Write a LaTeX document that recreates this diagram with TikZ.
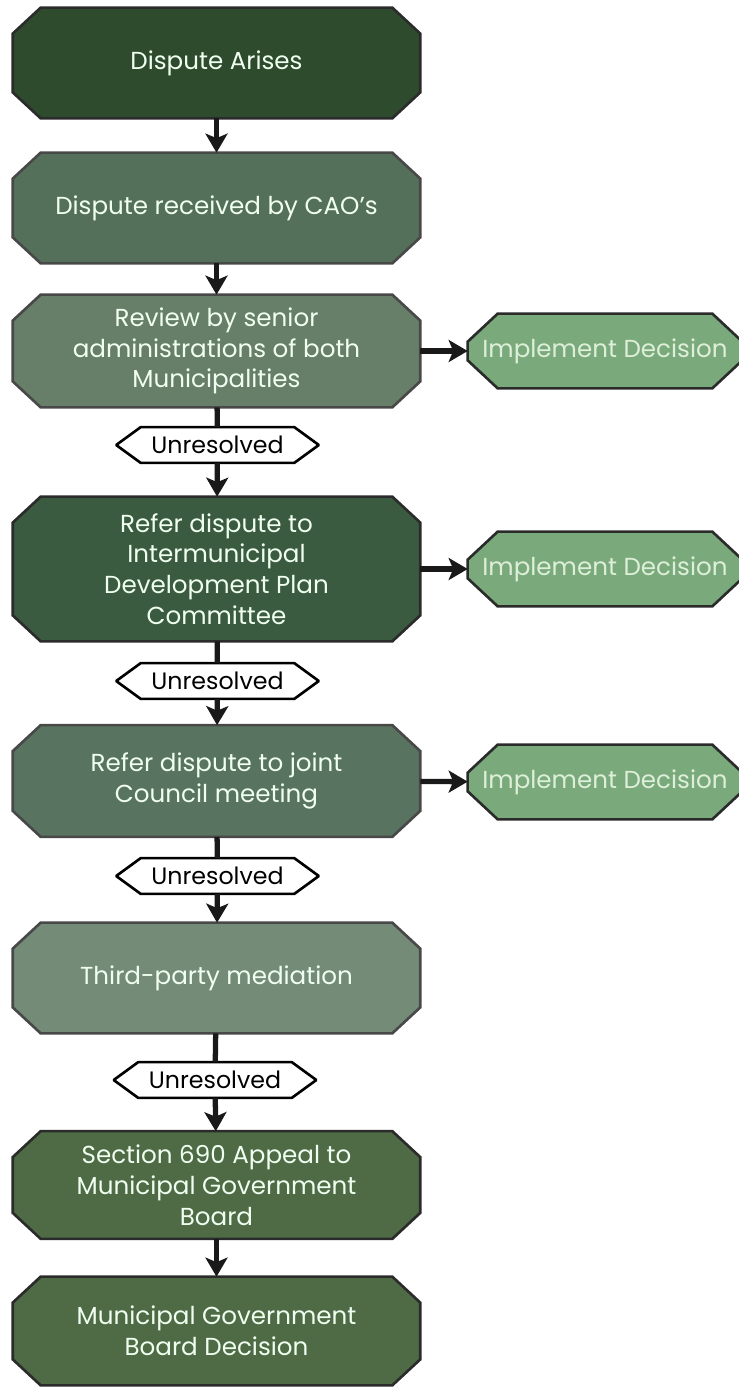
\documentclass[tikz,border=0pt]{standalone}
\usepackage{fontspec}
\setmainfont{Poppins}
\usetikzlibrary{calc,backgrounds,arrows.meta}

\definecolor{edge}{HTML}{2B2B2B}
\definecolor{softedge}{HTML}{484848}
\definecolor{implfill}{HTML}{7AAA7C}
\definecolor{impltext}{HTML}{DDEFD8}
\definecolor{stageA}{HTML}{2E4B2E}
\definecolor{stageB}{HTML}{55705A}
\definecolor{stageC}{HTML}{677E69}
\definecolor{stageD}{HTML}{3A5B40}
\definecolor{stageE}{HTML}{587360}
\definecolor{stageF}{HTML}{748B78}
\definecolor{stageG}{HTML}{4E6B46}

% octagon outline behind a node: node, fill, border, x cut, y cut
\newcommand\cutbox[5]{%
	\draw[line width=1.5pt, draw=#3, fill=#2]
		($(#1.north west)+(#4,0)$) -- ($(#1.north east)+(-#4,0)$) --
		($(#1.north east)+(0,#5)$) -- ($(#1.south east)+(0,-#5)$) --
		($(#1.south east)+(-#4,0)$) -- ($(#1.south west)+(#4,0)$) --
		($(#1.south west)+(0,-#5)$) -- ($(#1.north west)+(0,#5)$) -- cycle;}

\tikzset{
	stage/.style={rectangle, minimum width=8.14cm, minimum height=2.2cm,
		inner sep=0pt, text=white!94!green, align=center,
		font=\fontsize{14}{17.5}\selectfont},
	outcome/.style={rectangle, minimum width=5.48cm, minimum height=1.48cm,
		inner sep=0pt, text=impltext, font=\fontsize{14}{17}\selectfont},
	verdict/.style={rectangle, minimum width=4.02cm, minimum height=0.7cm,
		inner sep=0pt, text=black, font=\fontsize{13.5}{15}\selectfont},
	link/.style={line width=3pt, draw=black!90},
	flow/.style={link, -{Stealth[length=0.38cm,width=0.44cm,inset=0.09cm]}}
}

\begin{document}
\begin{tikzpicture}[x=0.02cm,y=-0.02cm]
	\useasboundingbox (0,0) rectangle (738,1387);

	% main column
	\node[stage] (arise) at (216.5,63) {Dispute Arises};
	\node[stage] (cao) at (216.5,208) {Dispute received by CAO's};
	\node[stage, minimum height=2.24cm] (review) at (216.5,351) {Review by senior\\administrations of both\\Municipalities};
	\node[stage, minimum height=2.88cm] (idp) at (216.5,569) {Refer dispute to\\Intermunicipal\\Development Plan\\Committee};
	\node[stage, minimum height=2.22cm] (council) at (216.5,781) {Refer dispute to joint\\Council meeting};
	\node[stage] (mediate) at (216.5,978) {Third-party mediation};
	\node[stage, minimum height=2.14cm] (appeal) at (216.5,1185) {Section 690 Appeal to\\Municipal Government\\Board};
	\node[stage, minimum height=2.16cm] (board) at (216.5,1331) {Municipal Government\\Board Decision};

	% unresolved tags
	\node[verdict] (open1) at (217.5,445) {Unresolved};
	\node[verdict] (open2) at (217.5,681) {Unresolved};
	\node[verdict] (open3) at (217.5,876) {Unresolved};
	\node[verdict] (open4) at (215,1080) {Unresolved};

	% side outcomes
	\node[outcome] (done1) at (605,351) {Implement Decision};
	\node[outcome] (done2) at (605,569) {Implement Decision};
	\node[outcome] (done3) at (605,782) {Implement Decision};

	\begin{scope}[on background layer]
		\foreach \n/\c/\e in {arise/stageA/edge, cao/stageB/softedge,
			review/stageC/softedge, idp/stageD/edge, council/stageE/softedge,
			mediate/stageF/softedge, appeal/stageG/edge, board/stageG/edge}
			\cutbox{\n}{\c}{\e}{28}{26};
		\foreach \n in {done1,done2,done3}
			\cutbox{\n}{implfill}{edge}{30}{28};
		\foreach \n in {open1,open2,open3,open4}
			\cutbox{\n}{white}{black}{24}{17.5};
	\end{scope}

	\draw[flow] (arise) -- (cao);
	\draw[flow] (cao) -- (review);
	\draw[flow] (review) -- (done1);
	\draw[link] (review) -- (open1);
	\draw[flow] (open1) -- (idp);
	\draw[flow] (idp) -- (done2);
	\draw[link] (idp) -- (open2);
	\draw[flow] (open2) -- (council);
	\draw[flow] (council) -- (done3);
	\draw[link] (council) -- (open3);
	\draw[flow] (open3) -- (mediate);
	\draw[link] (mediate) -- (open4);
	\draw[flow] (open4) -- (appeal);
	\draw[flow] (appeal) -- (board);
\end{tikzpicture}
\end{document}
